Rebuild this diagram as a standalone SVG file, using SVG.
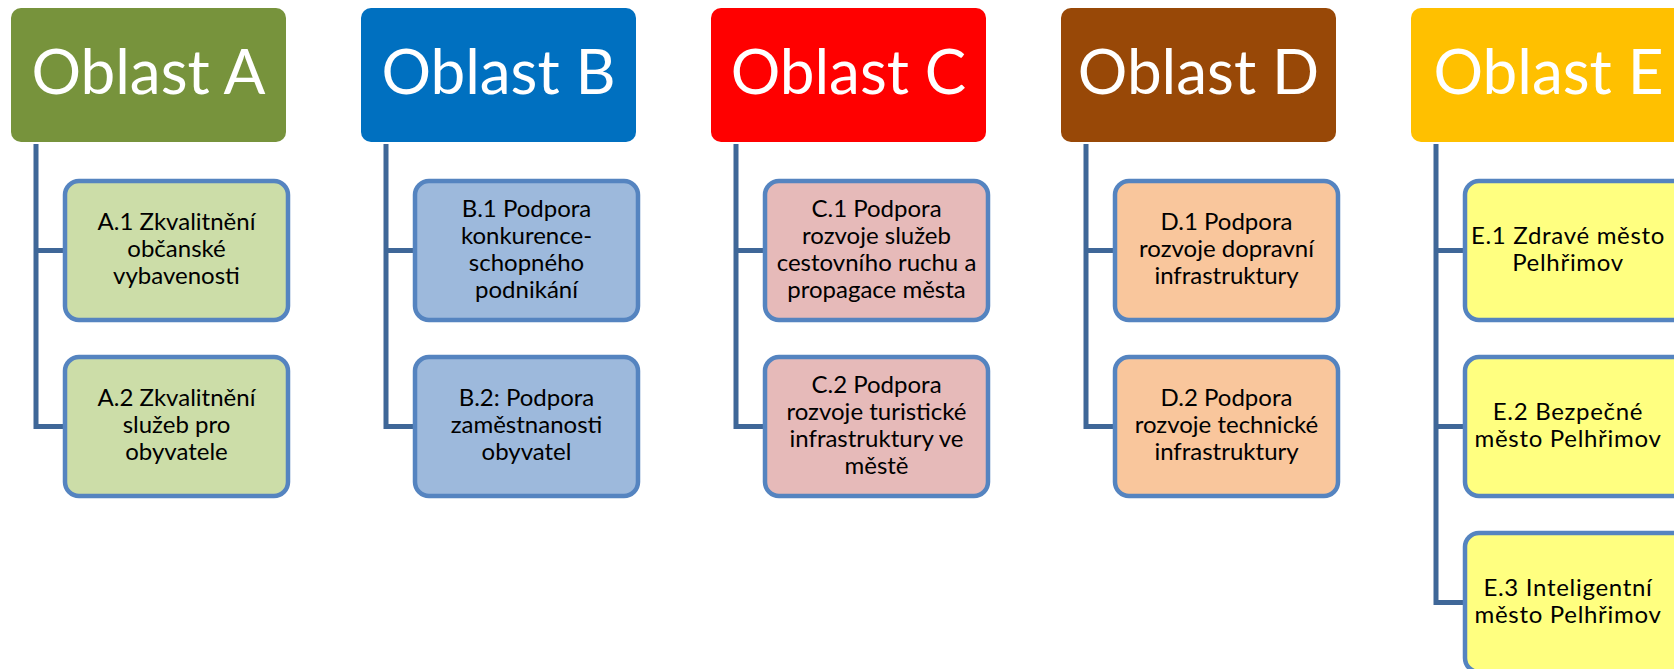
<svg xmlns="http://www.w3.org/2000/svg" width="1674" height="669" viewBox="0 0 1674 669">
<style>
.hdr{stroke:none}
.hd{font-family:Lato,"Open Sans","Liberation Sans",sans-serif;font-size:62px;fill:#fff;text-anchor:middle}
.ch{stroke:#5584C0;stroke-width:4.5}
.ct{font-family:Lato,"Open Sans","Liberation Sans",sans-serif;font-size:24px;fill:#000;text-anchor:middle}
.ce{letter-spacing:0.7px}
.cn{fill:none;stroke:#3F6798;stroke-width:5}
</style>
<rect width="1674" height="669" fill="#fff"/>
<g id="connectors">
<path class="cn" d="M36 144V426.5H65M36 250.5H65"/>
<path class="cn" d="M386 144V426.5H415M386 250.5H415"/>
<path class="cn" d="M736 144V426.5H765M736 250.5H765"/>
<path class="cn" d="M1086 144V426.5H1115M1086 250.5H1115"/>
<path class="cn" d="M1436 144V602.5H1465M1436 426.5H1465M1436 250.5H1465"/>
</g>
<g id="oblastA">
<rect class="hdr" x="11" y="8" width="275" height="134" rx="10" fill="#77933C"/>
<text class="hd" x="148.5" y="94">Oblast A</text>
</g>
<g id="oblastB">
<rect class="hdr" x="361" y="8" width="275" height="134" rx="10" fill="#0070C0"/>
<text class="hd" x="498.5" y="94">Oblast B</text>
</g>
<g id="oblastC">
<rect class="hdr" x="711" y="8" width="275" height="134" rx="10" fill="#FF0000"/>
<text class="hd" x="848.5" y="94">Oblast C</text>
</g>
<g id="oblastD">
<rect class="hdr" x="1061" y="8" width="275" height="134" rx="10" fill="#984807"/>
<text class="hd" x="1198.5" y="94">Oblast D</text>
</g>
<g id="oblastE">
<rect class="hdr" x="1411" y="8" width="275" height="134" rx="10" fill="#FFC000"/>
<text class="hd" x="1548.5" y="94">Oblast E</text>
</g>
<g id="A1">
<rect class="ch" x="65" y="181" width="223" height="139" rx="14" fill="#CCDDA8"/>
<text class="ct" x="176.5"><tspan x="176.5" y="230">A.1 Zkvalitnění</tspan><tspan x="176.5" y="257">občanské</tspan><tspan x="176.5" y="284">vybavenosti</tspan></text>
</g>
<g id="A2">
<rect class="ch" x="65" y="357" width="223" height="139" rx="14" fill="#CCDDA8"/>
<text class="ct" x="176.5"><tspan x="176.5" y="406">A.2 Zkvalitnění</tspan><tspan x="176.5" y="433">služeb pro</tspan><tspan x="176.5" y="460">obyvatele</tspan></text>
</g>
<g id="B1">
<rect class="ch" x="415" y="181" width="223" height="139" rx="14" fill="#9DB9DC"/>
<text class="ct" x="526.5"><tspan x="526.5" y="216.5">B.1 Podpora</tspan><tspan x="526.5" y="243.5">konkurence-</tspan><tspan x="526.5" y="270.5">schopného</tspan><tspan x="526.5" y="297.5">podnikání</tspan></text>
</g>
<g id="B2">
<rect class="ch" x="415" y="357" width="223" height="139" rx="14" fill="#9DB9DC"/>
<text class="ct" x="526.5"><tspan x="526.5" y="406">B.2: Podpora</tspan><tspan x="526.5" y="433">zaměstnanosti</tspan><tspan x="526.5" y="460">obyvatel</tspan></text>
</g>
<g id="C1">
<rect class="ch" x="765" y="181" width="223" height="139" rx="14" fill="#E6BAB9"/>
<text class="ct" x="876.5"><tspan x="876.5" y="216.5">C.1 Podpora</tspan><tspan x="876.5" y="243.5">rozvoje služeb</tspan><tspan x="876.5" y="270.5">cestovního ruchu a</tspan><tspan x="876.5" y="297.5">propagace města</tspan></text>
</g>
<g id="C2">
<rect class="ch" x="765" y="357" width="223" height="139" rx="14" fill="#E6BAB9"/>
<text class="ct" x="876.5"><tspan x="876.5" y="392.5">C.2 Podpora</tspan><tspan x="876.5" y="419.5">rozvoje turistické</tspan><tspan x="876.5" y="446.5">infrastruktury ve</tspan><tspan x="876.5" y="473.5">městě</tspan></text>
</g>
<g id="D1">
<rect class="ch" x="1115" y="181" width="223" height="139" rx="14" fill="#F9C69C"/>
<text class="ct" x="1226.5"><tspan x="1226.5" y="230">D.1 Podpora</tspan><tspan x="1226.5" y="257">rozvoje dopravní</tspan><tspan x="1226.5" y="284">infrastruktury</tspan></text>
</g>
<g id="D2">
<rect class="ch" x="1115" y="357" width="223" height="139" rx="14" fill="#F9C69C"/>
<text class="ct" x="1226.5"><tspan x="1226.5" y="406">D.2 Podpora</tspan><tspan x="1226.5" y="433">rozvoje technické</tspan><tspan x="1226.5" y="460">infrastruktury</tspan></text>
</g>
<g id="E1">
<rect class="ch" x="1465" y="181" width="223" height="139" rx="14" fill="#FFFF80"/>
<text class="ct ce" x="1568"><tspan x="1568" y="244">E.1 Zdravé město</tspan><tspan x="1568" y="271">Pelhřimov</tspan></text>
</g>
<g id="E2">
<rect class="ch" x="1465" y="357" width="223" height="139" rx="14" fill="#FFFF80"/>
<text class="ct ce" x="1568"><tspan x="1568" y="420">E.2 Bezpečné</tspan><tspan x="1568" y="447">město Pelhřimov</tspan></text>
</g>
<g id="E3">
<rect class="ch" x="1465" y="533" width="223" height="139" rx="14" fill="#FFFF80"/>
<text class="ct ce" x="1568"><tspan x="1568" y="596">E.3 Inteligentní</tspan><tspan x="1568" y="623">město Pelhřimov</tspan></text>
</g>
</svg>
